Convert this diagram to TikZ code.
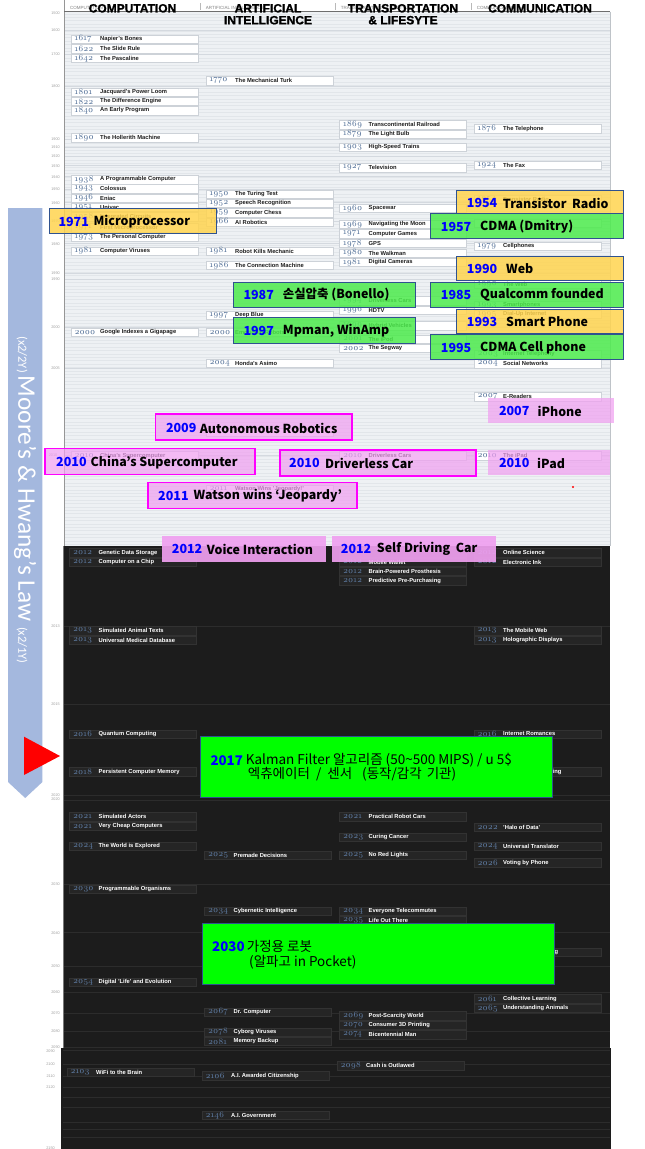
\documentclass[tikz,border=0pt]{standalone}
\usepackage{fontspec}
\setmainfont{Liberation Sans}
\newfontfamily\yearfont[Numbers=OldStyle]{Latin Modern Roman}
\newfontfamily\ko{Noto Sans CJK KR}
\newfontfamily\bandfont{Carlito}
\newfontfamily\heavy[FakeBold=1.2]{Liberation Sans Bold}
\definecolor{panel}{RGB}{238,241,244}
\definecolor{stripe}{RGB}{226,230,234}
\definecolor{gridl}{RGB}{212,217,223}
\definecolor{darkbg}{RGB}{28,28,28}
\definecolor{darkgrid}{RGB}{44,44,44}
\definecolor{bandblue}{RGB}{164,184,222}
\definecolor{yel}{RGB}{255,212,79}
\definecolor{grn}{RGB}{76,235,76}
\definecolor{pnk}{RGB}{240,160,240}
\definecolor{bordblue}{RGB}{47,82,143}
\definecolor{mag}{RGB}{255,0,255}
\definecolor{yrlt}{RGB}{80,110,150}
\definecolor{yrdk}{RGB}{95,125,165}
\definecolor{ltbord}{RGB}{205,210,216}
\definecolor{dkbord}{RGB}{50,50,50}
\definecolor{dkfill}{RGB}{37,37,37}
\definecolor{ttcol}{RGB}{30,30,30}
\definecolor{tickcol}{RGB}{160,160,160}
\definecolor{hdcol}{RGB}{130,130,130}
\definecolor{rborder}{RGB}{190,195,200}
\definecolor{lborder}{RGB}{150,150,150}
\definecolor{dborder}{RGB}{120,120,120}
\definecolor{topline}{RGB}{110,110,110}
\definecolor{sepcol}{RGB}{185,185,185}
\definecolor{puregreen}{RGB}{0,255,0}
\tikzset{
  lt/.style={draw=ltbord, line width=0.4pt, fill=white,
    minimum width=127pt, minimum height=8.6pt, inner sep=0pt, outer sep=0pt, anchor=west},
  dk/.style={draw=dkbord, line width=0.4pt, fill=dkfill,
    minimum width=127pt, minimum height=8.6pt, inner sep=0pt, outer sep=0pt, anchor=west},
  yrlt/.style={anchor=west, inner sep=0pt, font=\yearfont\fontsize{8.5}{8.5}\selectfont, text=yrlt},
  yrdk/.style={anchor=west, inner sep=0pt, font=\yearfont\fontsize{8.5}{8.5}\selectfont, text=yrdk},
  ttlt/.style={anchor=west, inner sep=0pt, font=\bfseries\fontsize{5.8}{6}\selectfont, text=ttcol},
  ttdk/.style={anchor=west, inner sep=0pt, font=\bfseries\fontsize{5.8}{6}\selectfont, text=white},
  tick/.style={anchor=east, inner sep=0pt, font=\fontsize{3.8}{4}\selectfont, text=tickcol},
  hdsmall/.style={anchor=west, inner sep=0pt, font=\fontsize{4.5}{5}\selectfont, text=hdcol},
  hdbig/.style={inner sep=0pt, font=\heavy\fontsize{12}{12}\selectfont, text=black},
  ovbox/.style={anchor=north west, inner sep=0pt, outer sep=0pt},
  ybox/.style={ovbox, fill=yel, fill opacity=0.85, draw=bordblue, draw opacity=1, line width=0.9pt},
  gbox/.style={ovbox, fill=grn, fill opacity=0.85, draw=bordblue, draw opacity=1, line width=0.9pt},
  pbox/.style={ovbox, fill=pnk, fill opacity=0.72, draw=mag, draw opacity=1, line width=1.4pt},
  pnb/.style={ovbox, fill=pnk, fill opacity=0.72},
  pnbs/.style={ovbox, fill=pnk, fill opacity=0.92},
  bgbox/.style={ovbox, fill=puregreen, draw=bordblue, line width=0.8pt},
  ovyr/.style={anchor=west, inner sep=0pt, font=\ko\bfseries\fontsize{12.5}{14}\selectfont, text=blue},
  ovtx/.style={anchor=west, inner sep=0pt, font=\ko\bfseries\fontsize{12.4}{14}\selectfont, text=black},
  bgyr/.style={anchor=west, inner sep=0pt, font=\ko\bfseries\fontsize{13.3}{14}\selectfont, text=blue},
  bgtx/.style={anchor=west, inner sep=0pt, font=\ko\fontsize{13.5}{14}\selectfont, text=black},
}
\newcommand\ent[6]{%
  \node[#6] (#1) at (#2,#3) {};
  \node[yr#6] (#1y) at ([xshift=3.5pt]#1.west) {#4};
  \node[tt#6] (#1t) at ([xshift=29pt]#1.west) {#5};
}
\newcommand\ovl[6]{% name style x1 y1 x2 y2
  \path let \p1=(#3,#4), \p2=(#5,#6) in
    node[#2, minimum width={\x2-\x1}, minimum height={\y1-\y2}] (#1) at (#3,#4) {};
}
\usetikzlibrary{calc}
\begin{document}
\begin{tikzpicture}[x=1pt,y=-1pt]
\useasboundingbox (0,0) rectangle (645,1149);
\fill[white] (0,0) rectangle (645,1149);
% light panel
\fill[panel] (64,11.5) rectangle (610,546);
\foreach \yy in {14,17.4,...,545} \draw[stripe, line width=0.7pt] (64.5,\yy) -- (610,\yy);
\foreach \yy in {30,54,86,139,147,156,165.7,176.7,189,202.7,221,243.7,273.3,279,327.3,368.3,455}
  \draw[gridl, line width=0.6pt] (64.5,\yy) -- (610,\yy);
\draw[rborder, line width=0.6pt] (610,11.5) -- (610,546);
% dark panels
\fill[darkbg] (62.5,546) rectangle (610,1047.5);
\fill[darkbg] (60.7,1047.5) rectangle (611,1149);
\foreach \yy in {626,704,795,800,884,932,966,992,1013,1031,1047,1050,1064,1076,1087,1097,1107,1122,1129,1137}
  \draw[darkgrid, line width=0.6pt] (63,\yy) -- (610,\yy);
% borders
\draw[lborder, line width=0.8pt] (64,0) -- (64,546);
\draw[dborder, line width=0.6pt] (63,546) -- (63,1047.5);
\draw[topline, line width=1pt] (64,11.5) -- (610,11.5);
% header
\foreach \xx in {200,335,471} \draw[sepcol, line width=0.5pt] (\xx,3) -- (\xx,10);
\node[hdsmall] (hs1) at (70,7.7) {COMPUTATION};
\node[hdsmall] (hs2) at (205.7,7.7) {ARTIFICIAL INTELLIGENCE};
\node[hdsmall] (hs3) at (340.7,7.7) {TRANSPORTATION \& LIFESTYLE};
\node[hdsmall] (hs4) at (476.7,7.7) {COMMUNICATION};
\node[hdbig] (h1) at (132.5,8.3) {COMPUTATION};
\node[hdbig] (h2a) at (268,8.3) {ARTIFICIAL};
\node[hdbig] (h2b) at (268,20.2) {INTELLIGENCE};
\node[hdbig] (h3a) at (403,8.3) {TRANSPORTATION};
\node[hdbig] (h3b) at (403,20.2) {\& LIFESYTE};
\node[hdbig] (h4) at (540,8.3) {COMMUNICATION};
% ticks
\foreach \yr/\yy [count=\i] in {1500/13,1600/30,1700/54,1800/86,1900/139,1910/147,1920/156,1930/165.7,1940/176.7,1950/189,1960/202.7,1970/221,1980/243.7,1990/273.3,1990/279,2000/327.3,2005/368.3,2013/626,2015/704.3,2020/795,2020/799,2030/884,2040/932.7,2050/966,2060/991.7,2070/1013,2080/1030.7,2090/1046.7}
  \node[tick] (tk\i) at (60,\yy) {\yr};
\node[tick, anchor=west] (tk2010) at (48.6,455) {2010};
\foreach \yr/\yy [count=\i] in {2090/1050.7,2100/1064,2110/1076,2120/1087,2150/1148}
  \node[tick] (tl\i) at (55,\yy) {\yr};
% light entries
\foreach \yr/\t/\yy [count=\i] in {1617/Napier's Bones/39,1622/The Slide Rule/48.5,1642/The Pascaline/58,1801/Jacquard's Power Loom/92,1822/The Difference Engine/101.3,1840/An Early Program/110.5,1890/The Hollerith Machine/137.7,1938/A Programmable Computer/179.5,1943/Colossus/188.8,1946/Eniac/198,1951/Univac/207.3,1958/Integrated Circuits/216.7,1971/First Microprocessor/227.7,1973/The Personal Computer/237.3,1981/Computer Viruses/251,2000/Google Indexes a Gigapage/332.3,2010/China's Supercomputer/455.7}
  {\ent{ca\i}{71}{\yy}{\yr}{\t}{lt}}
\foreach \yr/\t/\yy [count=\i] in {1770/The Mechanical Turk/80.7,1950/The Turing Test/194,1952/Speech Recognition/203.3,1959/Computer Chess/212.7,1966/AI Robotics/222,1981/Robot Kills Mechanic/251,1986/The Connection Machine/265.3,1997/Deep Blue/315,2000/Emotional Robots/332.3,2004/Honda's Asimo/363,2011/Watson Wins 'Jeopardy!'/489}
  {\ent{cb\i}{206}{\yy}{\yr}{\t}{lt}}
\node[lt] (cb0) at (206,432) {};
\foreach \yr/\t/\yy [count=\i] in {1869/Transcontinental Railroad/124.7,1879/The Light Bulb/134,1903/High-Speed Trains/147,1927/Television/167.7,1960/Spacewar/208.3,1969/Navigating the Moon/224.3,1971/Computer Games/233.7,1978/GPS/243.3,1980/The Walkman/253,1981/Digital Cameras/262.3,1994/Driverless Cars/300.7,1996/HDTV/310,1999/Hybrid Vehicles/325.7,2001/The iPod/339,2002/The Segway/348.3,2010/Driverless Cars/455.7}
  {\ent{cc\i}{339.5}{\yy}{\yr}{\t}{lt}}
\foreach \yr/\t/\yy [count=\i] in {1876/The Telephone/128.7,1924/The Fax/165,1954/Transistor Radio/199,1979/Cellphones/246,1990/The Web/284,1993/Smartphones/305.3,1995/Dial-Up Internet/314.3,2003/Internet Telephony/354.3,2004/Social Networks/363.7,2007/E-Readers/396.7,2010/The iPad/455.7}
  {\ent{cd\i}{474}{\yy}{\yr}{\t}{lt}}
\node[lt] (cd0) at (474,223.3) {};
% dark entries
\foreach \yr/\t/\yy [count=\i] in {2012/Genetic Data Storage/552.7,2012/Computer on a Chip/562,2013/Simulated Animal Texts/630.7,2013/Universal Medical Database/640,2016/Quantum Computing/734,2018/Persistent Computer Memory/771.7,2021/Simulated Actors/816.7,2021/Very Cheap Computers/826.3,2024/The World is Explored/846.3,2030/Programmable Organisms/889.3,2054/Digital 'Life' and Evolution/982}
  {\ent{da\i}{69.5}{\yy}{\yr}{\t}{dk}}
\ent{da0}{67}{1072.3}{2103}{WiFi to the Brain}{dk}
\foreach \yr/\t/\yy [count=\i] in {2025/Premade Decisions/855,2034/Cybernetic Intelligence/911,2067/Dr. Computer/1012,2078/Cyborg Viruses/1032,2081/Memory Backup/1041.3}
  {\ent{db\i}{204.5}{\yy}{\yr}{\t}{dk}}
\ent{db6}{202}{1075.7}{2106}{A.I. Awarded Citizenship}{dk}
\ent{db7}{202}{1115.3}{2146}{A.I. Government}{dk}
\node[dk] (dc0) at (339.5,552.7) {};
\foreach \yr/\t/\yy [count=\i] in {2012/Mobile Wallet/562,2012/Brain-Powered Prosthesis/571.3,2012/Predictive Pre-Purchasing/580.7,2021/Practical Robot Cars/816.7,2023/Curing Cancer/837.3,2025/No Red Lights/855,2034/Everyone Telecommutes/911,2035/Life Out There/920.3,2069/Post-Scarcity World/1015.7,2070/Consumer 3D Printing/1025.3,2074/Bicentennial Man/1034.7}
  {\ent{dc\i}{339.5}{\yy}{\yr}{\t}{dk}}
\ent{dcx}{337}{1065.7}{2098}{Cash is Outlawed}{dk}
\foreach \yr/\t/\yy [count=\i] in {2012/Online Science/552.7,2012/Electronic Ink/562,2013/The Mobile Web/630.7,2013/Holographic Displays/640,2016/Internet Romances/734,2022/'Halo of Data'/827.3,2024/Universal Translator/846.3,2026/Voting by Phone/862.7,2061/Collective Learning/998.7,2065/Understanding Animals/1008.3}
  {\ent{dd\i}{474}{\yy}{\yr}{\t}{dk}}
\node[dk] (dd0) at (474,771.7) {};
\node[ttdk] (dd0t) at (552.5,771.7) {ing};
\node[dk] (ddq) at (474,952.3) {};
\node[ttdk] (ddqt) at (554.5,952.3) {g};
% Moore's band
\fill[bandblue] (8,208) -- (42.4,208) -- (42.4,782) -- (25.2,798) -- (8,782) -- cycle;
\node[rotate=-90, text=white, inner sep=0pt, font=\bandfont] (band) at (25.2,500)
  {\fontsize{12.5}{12.5}\selectfont (x2/2Y)\ \fontsize{25.3}{25.3}\selectfont Moore’s \& Hwang’s Law\ \fontsize{12.5}{12.5}\selectfont (x2/1Y)};
\fill[red] (24,736.7) -- (60,756) -- (24,775) -- cycle;
\fill[red] (573,487) circle (1.1);
% yellow / green overlays
\ovl{o1971}{ybox}{49}{208.3}{216.7}{233.3}
\node[ovyr] (o1971y) at (58.3,221.7) {1971};
\node[ovtx] (o1971t) at (93.3,221.7) {Microprocessor};
\ovl{o1954}{ybox}{456.7}{190.7}{623.3}{213.3}
\node[ovyr] (o1954y) at (466.7,203.3) {1954};
\node[ovtx] (o1954t) at (502.7,203.3) {Transistor\ \ Radio};
\ovl{o1957}{gbox}{430}{213.3}{623.3}{238.3}
\node[ovyr] (o1957y) at (440.7,226.7) {1957};
\node[ovtx] (o1957t) at (480,226.7) {CDMA (Dmitry)};
\ovl{o1990}{ybox}{456.7}{256.7}{623.3}{280.7}
\node[ovyr] (o1990y) at (466.7,269) {1990};
\node[ovtx] (o1990t) at (506,269) {Web};
\ovl{o1985}{gbox}{430}{282.7}{623.3}{307}
\node[ovyr] (o1985y) at (440.7,295) {1985};
\node[ovtx] (o1985t) at (480,295) {Qualcomm founded};
\ovl{o1993}{ybox}{456.7}{309.3}{623.3}{333.7}
\node[ovyr] (o1993y) at (466.7,321.7) {1993};
\node[ovtx] (o1993t) at (506,321.7) {Smart Phone};
\ovl{o1995}{gbox}{430}{334.3}{623.3}{359.3}
\node[ovyr] (o1995y) at (440.7,347.7) {1995};
\node[ovtx] (o1995t) at (480,347.7) {CDMA Cell phone};
\ovl{o1987}{gbox}{233.3}{282}{415.7}{307.3}
\node[ovyr] (o1987y) at (243.3,295) {1987};
\node[ovtx] (o1987t) at (282.7,295) {손실압축 (Bonello)};
\ovl{o1997}{gbox}{233.3}{317.7}{415.7}{343.3}
\node[ovyr] (o1997y) at (243.3,331) {1997};
\node[ovtx] (o1997t) at (282.7,331) {Mpman, WinAmp};
% pink overlays
\ovl{p2007}{pnb}{488}{397.7}{614}{422.7}
\node[ovyr] (p2007y) at (498.8,411) {2007};
\node[ovtx] (p2007t) at (537.4,411) {iPhone};
\ovl{p2009}{pbox}{155.6}{414}{352}{440}
\node[ovyr] (p2009y) at (165.8,428.3) {2009};
\node[ovtx] (p2009t) at (199.6,428.3) {Autonomous Robotics};
\ovl{p2010a}{pbox}{45}{448.7}{255}{474.3}
\node[ovyr] (p2010ay) at (56,462.3) {2010};
\node[ovtx] (p2010at) at (90.5,462.3) {China’s Supercomputer};
\ovl{p2010b}{pbox}{280}{450}{476}{476}
\node[ovyr] (p2010by) at (289,463.3) {2010};
\node[ovtx] (p2010bt) at (325,463.3) {Driverless Car};
\ovl{p2010c}{pnb}{488}{450}{610}{475}
\node[ovyr] (p2010cy) at (498.8,463) {2010};
\node[ovtx] (p2010ct) at (537,463) {iPad};
\ovl{p2011}{pbox}{148}{482.3}{357}{508.3}
\node[ovyr] (p2011y) at (158,496) {2011};
\node[ovtx] (p2011t) at (193.4,496) {Watson wins ‘Jeopardy’};
\ovl{p2012a}{pnbs}{162}{536}{326}{561.7}
\node[ovyr] (p2012ay) at (171.7,549.3) {2012};
\node[ovtx] (p2012at) at (206.7,549.3) {Voice Interaction};
\ovl{p2012b}{pnbs}{331.7}{536}{495.7}{561.7}
\node[ovyr] (p2012by) at (340.7,549.3) {2012};
\node[ovtx] (p2012bt) at (376.7,549.3) {Self Driving\ \ Car};
% big green boxes
\ovl{g2017}{bgbox}{200.4}{736.7}{551.9}{797.7}
\node[bgyr] (g2017y) at (210.3,760.3) {2017};
\node[bgtx] (g2017t) at (245.7,760.3) {Kalman Filter 알고리즘 (50\textasciitilde500 MIPS) / u 5\$};
\node[bgtx] (g2017u) at (247.7,774.5) {엑츄에이터\hspace{3pt} /\hspace{3pt} 센서\hspace{4pt}\ \ (동작/감각\hspace{2pt} 기관)};
\ovl{g2030}{bgbox}{202}{923.3}{554}{984.3}
\node[bgyr] (g2030y) at (212,946.7) {2030};
\node[bgtx] (g2030t) at (246.7,946.7) {가정용 로봇};
\node[bgtx] (g2030u) at (249,962) {(알파고 in Pocket)};
\end{tikzpicture}
\end{document}
